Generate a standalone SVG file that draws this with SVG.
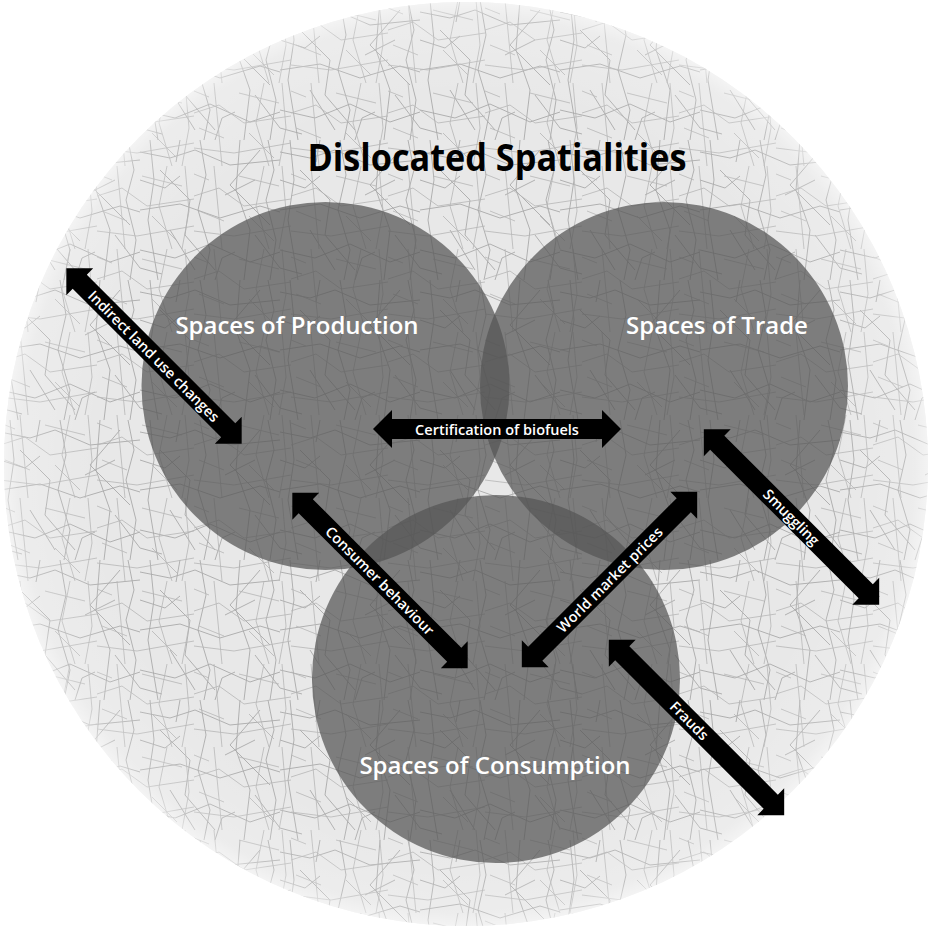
<svg xmlns="http://www.w3.org/2000/svg" xmlns:xlink="http://www.w3.org/1999/xlink" width="933" height="926" viewBox="0 0 933 926">
<style>
.tex{fill:none;stroke:#a9a9a9;stroke-width:0.9;stroke-linejoin:round}
.tex2{fill:none;stroke:#b5b5b5;stroke-width:0.8}
.space{fill:#555;fill-opacity:0.73}
.slabel{font-family:"Open Sans","Noto Sans",sans-serif;font-weight:600;font-size:24px;fill:#fff;text-anchor:middle}
.title{font-family:"Open Sans","Noto Sans",sans-serif;font-weight:700;font-size:37px;fill:#000;text-anchor:middle}
.arrow{fill:#000}
.alabel{font-family:"Open Sans","Noto Sans",sans-serif;font-weight:600;font-size:14.5px;fill:#fff;text-anchor:middle;dominant-baseline:central}
</style>
<defs>
<pattern id="texA" width="140" height="140" patternUnits="userSpaceOnUse">
<rect width="140" height="140" fill="#e8e8e8"/>
<path class="tex" d="M0 12 L30 18 L55 10 L90 25 L140 20 M10 0 L14 40 L8 80 L18 140 M60 0 L66 35 L58 70 L70 110 L64 140 M0 70 L40 64 L80 78 L120 66 L140 72 M100 0 L96 50 L110 90 L104 140 M0 110 L35 118 L70 104 L110 122 L140 112 M20 30 L50 60 L45 95 L75 130 M120 10 L90 45 L130 85 M30 90 L55 130 M85 55 L115 40 M0 40 L25 48 L40 36 M128 0 L134 30 L126 60 L136 100 L130 140 M40 0 L36 22 M75 140 L82 118 L95 112 M115 95 L140 128 M0 128 L22 134"/>
</pattern>
<pattern id="texB" width="97" height="83" patternUnits="userSpaceOnUse">
<path class="tex2" d="M0 30 L25 22 L50 40 L97 33 M20 0 L28 83 M70 0 L62 40 L75 83 M0 65 L40 70 L97 60 M45 10 L85 20 M5 45 L30 55 M55 50 L80 75 M88 0 L92 45 L85 83 M0 8 L15 14"/>
</pattern>
<radialGradient id="rim" cx="0.5" cy="0.5" r="0.5">
<stop offset="0.8" stop-color="#fff" stop-opacity="0"/>
<stop offset="0.97" stop-color="#fff" stop-opacity="0.2"/>
<stop offset="1" stop-color="#fff" stop-opacity="0.5"/>
</radialGradient>
<path id="arr" d="M-124 0 L-105 -19 L-105 -10 L105 -10 L105 -19 L124 0 L105 19 L105 10 L-105 10 L-105 19 Z"/>
</defs>
<rect width="933" height="926" fill="#fff"/>
<g id="background">
<circle cx="466" cy="464" r="462" fill="url(#texA)"/>
<circle cx="466" cy="464" r="462" fill="url(#texB)"/>
<circle cx="466" cy="464" r="462" fill="url(#rim)"/>
</g>
<g id="title">
<text class="title" x="497" y="171" textLength="379" lengthAdjust="spacingAndGlyphs">Dislocated Spatialities</text>
</g>
<g id="production">
<circle class="space" cx="325.5" cy="386" r="184"/>
</g>
<g id="trade">
<circle class="space" cx="664" cy="386" r="184"/>
</g>
<g id="consumption">
<circle class="space" cx="496" cy="679" r="184"/>
</g>
<g id="labels">
<text class="slabel" x="297" y="334">Spaces of Production</text>
<text class="slabel" x="717" y="334">Spaces of Trade</text>
<text class="slabel" x="495" y="774">Spaces of Consumption</text>
</g>
<g id="connectors">
<g transform="translate(154 356) rotate(45)"><use href="#arr" class="arrow"/><text class="alabel" x="0" y="0">Indirect land use changes</text></g>
<g transform="translate(497 429)"><use href="#arr" class="arrow"/><text class="alabel" x="0" y="0">Certification of biofuels</text></g>
<g transform="translate(380 580.5) rotate(45)"><use href="#arr" class="arrow"/><text class="alabel" x="0" y="0">Consumer behaviour</text></g>
<g transform="translate(609.5 579.5) rotate(-45)"><use href="#arr" class="arrow"/><text class="alabel" x="0" y="0">World market prices</text></g>
<g transform="translate(791.5 517) rotate(45)"><use href="#arr" class="arrow"/><text class="alabel" x="0" y="0">Smuggling</text></g>
<g transform="translate(696.5 727.5) rotate(45)"><use href="#arr" class="arrow"/><text class="alabel" x="-10" y="0">Frauds</text></g>
</g>
</svg>
